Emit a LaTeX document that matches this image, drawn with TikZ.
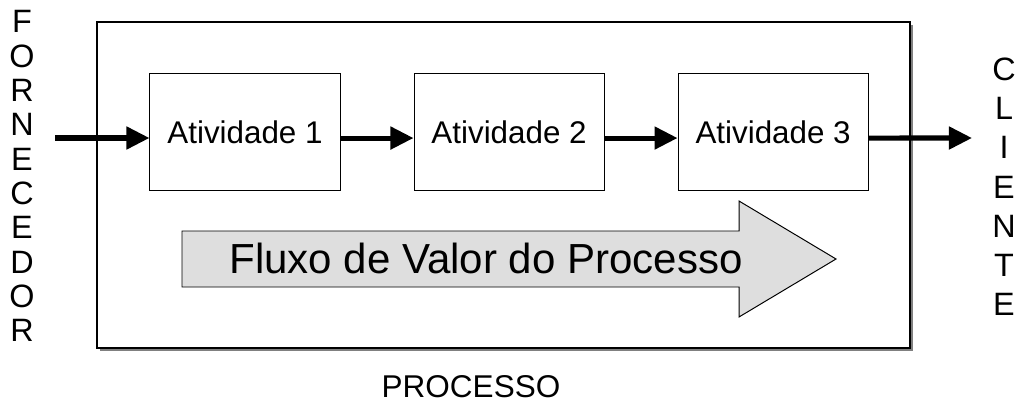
\documentclass[tikz,border=0pt]{standalone}
\usepackage{fontspec}
\setmainfont{Liberation Sans}
\usetikzlibrary{positioning}
\usetikzlibrary{arrows.meta}

\begin{document}
\begin{tikzpicture}[
  x=0.025cm, y=-0.025cm,
  atividade/.style={draw, line width=0.7pt, fill=white, minimum width=4.75cm,
    minimum height=2.9cm, inner sep=0pt, font=\fontsize{22.3}{26}\selectfont},
  fluxo/.style={line width=3.6pt, -{Triangle[length=16.4pt, width=15.6pt]}},
  letra/.style={anchor=base, inner sep=0pt, font=\fontsize{23}{27}\selectfont}
]
\useasboundingbox (0,0) rectangle (1016,412);

% Process frame with shadow
\fill[black!50] (100,25) rectangle (913,351);
\draw[line width=1pt, fill=white] (97,22) rectangle (910,348);

% Activities
\node[atividade] (a1) at (245,132) {Atividade 1};
\node[atividade, right=1.825cm of a1] (a2) {Atividade 2};
\node[atividade, right=1.825cm of a2] (a3) {Atividade 3};

% Flow between supplier, activities and client
\coordinate (forn) at (55,138);
\coordinate (cli) at (972,138);
\draw[fluxo] (forn) -- (forn -| a1.west);
\draw[fluxo] ([yshift=-4.3pt]a1.east) -- ([yshift=-4.3pt]a2.west);
\draw[fluxo] ([yshift=-4.3pt]a2.east) -- ([yshift=-4.3pt]a3.west);
\draw[fluxo] ([yshift=-4.3pt]a3.east) -- (cli);

% Value stream arrow
\draw[fill=black!13, line width=0.7pt] (182,231) -- (739,231) -- (739,201)
  -- (836,259) -- (739,317) -- (739,287) -- (182,287) -- cycle;
\node[anchor=base, font=\fontsize{29.9}{36}\selectfont] (valor) at (486,273)
  {Fluxo de Valor do Processo};

% Labels
\node[anchor=base, font=\fontsize{22.4}{27}\selectfont] (processo) at (471,397) {PROCESSO};
\foreach \c [count=\i from 0] in {F,O,R,N,E,C,E,D,O,R}
  \node[letra] (f\i) at (22,33+34.3*\i) {\c};
\foreach \c [count=\i from 0] in {C,L,I,E,N,T,E}
  \node[letra] (c\i) at (1004,81+39*\i) {\c};
\end{tikzpicture}
\end{document}
